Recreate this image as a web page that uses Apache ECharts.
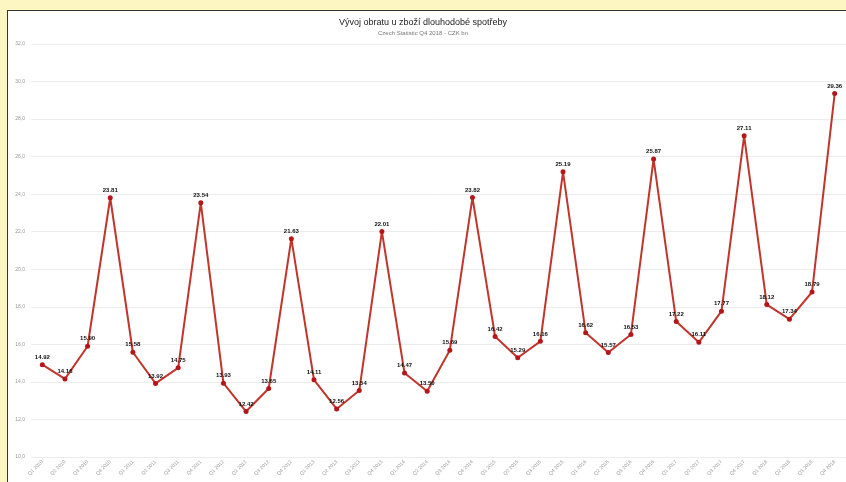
<!DOCTYPE html>
<html><head><meta charset="utf-8">
<script src="https://cdn.jsdelivr.net/npm/echarts@6/dist/echarts.min.js"></script>
<style>
html,body{margin:0;padding:0;background:#fdf6c3;}
#frame{position:absolute;left:7px;top:10px;width:845px;height:480px;background:#fff;border:1px solid #333;}
#c{position:absolute;left:0;top:0;width:846px;height:482px;}
</style></head>
<body>
<div id="frame"></div>
<div id="c"></div>
<script>
const years = [2010,2011,2012,2013,2014,2015,2016,2017,2018];
const categories = [];
years.forEach(y => { for (let q = 1; q <= 4; q++) categories.push('Q' + q + ' ' + y); });
const turnover = [
  14.92, 14.16, 15.90, 23.81,
  15.58, 13.92, 14.75, 23.54,
  13.93, 12.42, 13.65, 21.63,
  14.11, 12.56, 13.54, 22.01,
  14.47, 13.50, 15.69, 23.82,
  16.42, 15.29, 16.16, 25.19,
  16.62, 15.57, 16.53, 25.87,
  17.22, 16.11, 17.77, 27.11,
  18.12, 17.34, 18.79, 29.36
];
const titleText = 'Vývoj obratu u zboží dlouhodobé spotřeby';
const subtitleText = 'Czech Statistic Q4 2018 - CZK bn';

const chart = echarts.init(document.getElementById('c'), null, {renderer:'canvas'});
chart.setOption({
  backgroundColor: 'transparent',
  animation: false,
  title: {
    text: titleText, subtext: subtitleText, left: 'center', top: 13, itemGap: 3,
    textStyle: {fontFamily: 'Liberation Sans', fontSize: 9, fontWeight: 'normal', color: '#222'},
    subtextStyle: {fontFamily: 'Liberation Sans', fontSize: 6, color: '#777'}
  },
  grid: {left: 31, right: -3, top: 44, bottom: 25, containLabel: false},
  xAxis: {
    type: 'category', data: categories, boundaryGap: true,
    axisLine: {show: false}, axisTick: {show: false},
    axisLabel: {rotate: 45, fontSize: 5, color: '#999', margin: 4, interval: 0, fontFamily: 'Liberation Sans'}
  },
  yAxis: {
    type: 'value', min: 10, max: 32, interval: 2,
    axisLine: {show: false}, axisTick: {show: false},
    axisLabel: {fontSize: 5, color: '#999', margin: 6, fontFamily: 'Liberation Sans',
      formatter: v => v.toFixed(1).replace('.', ',')},
    splitLine: {lineStyle: {color: '#ececec', width: 1}}
  },
  series: [{
    type: 'line', data: turnover,
    symbol: 'circle', symbolSize: 5,
    lineStyle: {color: '#c0362c', width: 2},
    itemStyle: {color: '#b5161b'},
    label: {show: true, position: 'top', distance: 2,
      formatter: p => p.value.toFixed(2),
      fontSize: 6, fontWeight: 'bold', color: '#111', fontFamily: 'Liberation Sans'}
  }]
});
</script>
</body></html>
